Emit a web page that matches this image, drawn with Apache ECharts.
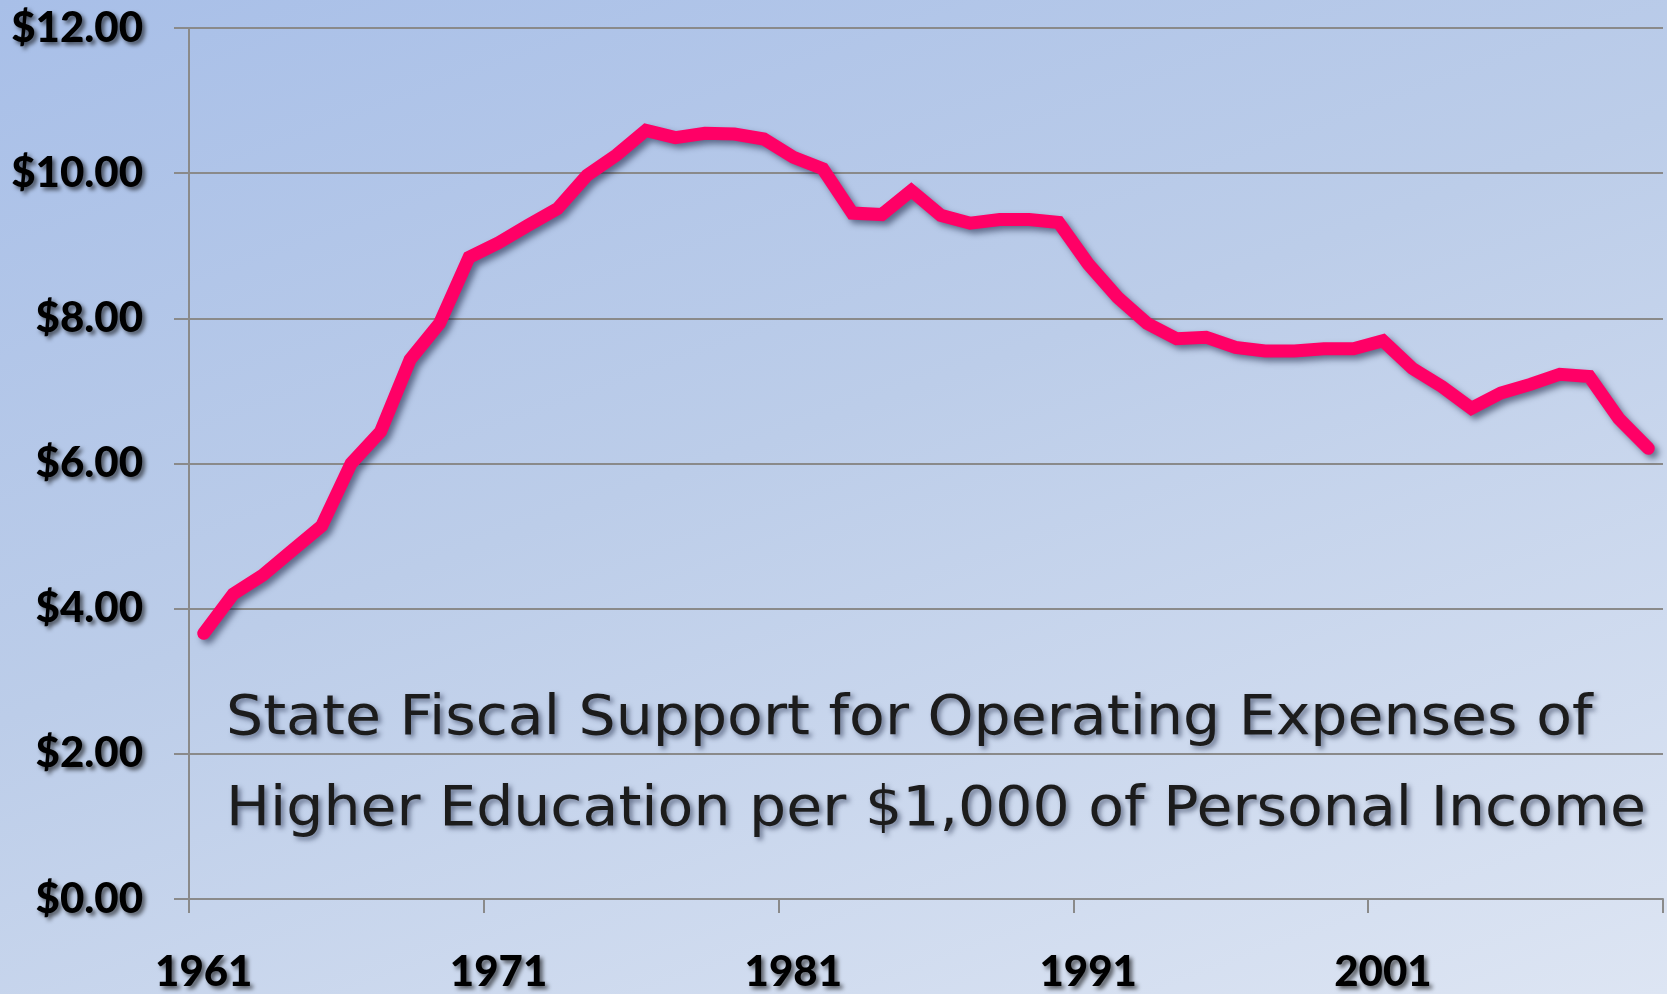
<!DOCTYPE html>
<html>
<head>
<meta charset="utf-8">
<script src="https://cdn.jsdelivr.net/npm/echarts@6/dist/echarts.min.js"></script>
<style>
  html, body { margin: 0; padding: 0; }
  #chart {
    width: 1667px;
    height: 994px;
    background: linear-gradient(160deg, #a8bfe8 0%, #bccde9 45%, #dde5f3 100%);
  }
</style>
</head>
<body>
<div id="chart"></div>
<script>
// years on the x axis
const years = [];
for (let y = 1961; y <= 2010; y++) years.push(String(y));

// state support per $1,000 of personal income
const support = [
    3.66, 4.20, 4.46, 4.80, 5.14, 6.00, 6.44, 7.43, 7.93, 8.84,
    9.04, 9.28, 9.51, 9.97, 10.25, 10.59, 10.49, 10.55, 10.54, 10.47,
    10.22, 10.06, 9.45, 9.43, 9.76, 9.42, 9.31, 9.36, 9.36, 9.32,
    8.75, 8.29, 7.93, 7.72, 7.74, 7.60, 7.55, 7.55, 7.58, 7.58,
    7.69, 7.31, 7.06, 6.76, 6.97, 7.09, 7.23, 7.20, 6.62, 6.21
];

const titleLines = [
    'State Fiscal Support for Operating Expenses of',
    'Higher Education per $1,000 of Personal Income'
];

const gridColor = '#8a8a8a';
const labelStyle = {
    fontFamily: 'Lato, "Liberation Sans Narrow", sans-serif',
    fontWeight: 900,
    fontSize: 42,
    color: '#000',
    textShadowColor: 'rgba(0,0,0,0.6)',
    textShadowBlur: 4,
    textShadowOffsetX: 3,
    textShadowOffsetY: 3
};

const chart = echarts.init(document.getElementById('chart'));

chart.setOption({
    backgroundColor: 'transparent',
    animation: false,
    grid: { left: 189, right: 4, top: 28, bottom: 95 },
    xAxis: {
        type: 'category',
        data: years,
        boundaryGap: true,
        axisLine: { lineStyle: { color: gridColor, width: 2 } },
        axisTick: { show: true, interval: 9, length: 14, lineStyle: { color: gridColor, width: 2 } },
        axisLabel: Object.assign({ interval: 9, margin: 52 }, labelStyle),
        splitLine: { show: false }
    },
    yAxis: {
        type: 'value',
        min: 0,
        max: 12,
        interval: 2,
        axisLine: { show: true, lineStyle: { color: gridColor, width: 2 } },
        axisTick: { show: true, length: 15, lineStyle: { color: gridColor, width: 2 } },
        axisLabel: Object.assign({
            margin: 46,
            formatter: v => '$' + v.toFixed(2)
        }, labelStyle),
        splitLine: { show: true, lineStyle: { color: gridColor, width: 2 } }
    },
    series: [{
        type: 'line',
        data: support,
        symbol: 'none',
        lineStyle: {
            color: '#ff0066',
            width: 13,
            cap: 'round',
            join: 'miter',
            shadowColor: 'rgba(20,30,60,0.55)',
            shadowBlur: 6,
            shadowOffsetX: 4,
            shadowOffsetY: 4
        }
    }],
    graphic: titleLines.map((t, i) => ({
        type: 'text',
        x: 226,
        y: 719 + i * 91,
        scaleX: 1.045,
        z: 10,
        style: {
            text: t,
            fontFamily: '"DejaVu Sans", Verdana, sans-serif',
            fontSize: 56,
            fill: '#1c1c1c',
            verticalAlign: 'middle',
            textShadowColor: 'rgba(30,40,70,0.55)',
            textShadowBlur: 5,
            textShadowOffsetX: 3,
            textShadowOffsetY: 3
        }
    }))
});

window.addEventListener('resize', () => chart.resize());
</script>
</body>
</html>
